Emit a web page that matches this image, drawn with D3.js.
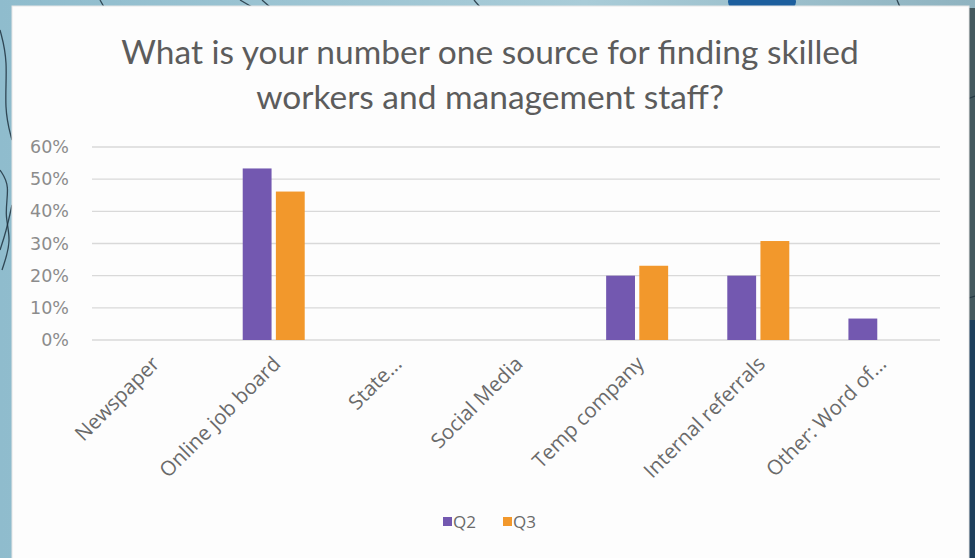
<!DOCTYPE html>
<html>
<head>
<meta charset="utf-8">
<script src="https://cdn.jsdelivr.net/npm/d3@7"></script>
<style>
  html, body { margin: 0; padding: 0; }
  body { width: 975px; height: 558px; overflow: hidden; }
  svg { display: block; }
</style>
</head>
<body>
<svg id="chart" width="975" height="558"></svg>
<script>
// Survey answers: share of respondents naming each source, by quarter
const categories = ["Newspaper", "Online job board", "State...", "Social Media",
                    "Temp company", "Internal referrals", "Other: Word of..."];
const seriesNames = ["Q2", "Q3"];
const q2Values = [0, 0.5333, 0, 0, 0.20, 0.20, 0.0667];
const q3Values = [0, 0.4615, 0, 0, 0.2308, 0.3077, 0];
const yTicks = [0, 0.1, 0.2, 0.3, 0.4, 0.5, 0.6];
const titleLines = ["What is your number one source for finding skilled",
                    "workers and management staff?"];
const colors = ["#7358b0", "#f2982c"];

const svg = d3.select("#chart");
const W = 975, H = 558;

// ---- backdrop behind the chart card ----
const bg = svg.append("g");
const grad = svg.append("defs").append("linearGradient")
  .attr("id", "bgGrad").attr("x1", 0).attr("x2", 1).attr("y1", 0).attr("y2", 0);
grad.append("stop").attr("offset", "0%").attr("stop-color", "#8fbccd");
grad.append("stop").attr("offset", "60%").attr("stop-color", "#a9ccd8");
grad.append("stop").attr("offset", "100%").attr("stop-color", "#8fb3c0");
bg.append("rect").attr("width", W).attr("height", H).attr("fill", "url(#bgGrad)");
bg.append("rect").attr("x", 966).attr("y", 8).attr("width", 9).attr("height", H).attr("fill", "#44595f");
bg.append("rect").attr("x", 966).attr("y", 320).attr("width", 9).attr("height", 238).attr("fill", "#1d3f5c");
bg.append("ellipse").attr("cx", 762).attr("cy", 2).attr("rx", 34).attr("ry", 14).attr("fill", "#1d5f9e");
const sketch = d3.line().curve(d3.curveBasis);
[
  [[0, 30], [8, 60], [4, 110], [12, 140]],
  [[0, 170], [10, 185], [4, 215], [12, 240], [2, 270]],
  [[0, 250], [6, 232], [12, 205]],
  [[100, 0], [104, 7]],
  [[240, 0], [252, 7]],
  [[262, 0], [270, 7]],
  [[474, 0], [480, 7]],
  [[897, 0], [900, 7]],
  [[965, 100], [975, 96]],
  [[962, 300], [975, 296]]
].forEach(pts => {
  bg.append("path").attr("d", sketch(pts)).attr("fill", "none")
    .attr("stroke", "#1f3340").attr("stroke-width", 1.3).attr("opacity", 0.85);
});

// ---- chart card ----
svg.append("rect").attr("x", 12).attr("y", 6).attr("width", 957).attr("height", 560)
  .attr("fill", "#fdfdfd").attr("stroke", "#e6e6e6").attr("stroke-width", 1);

// title
svg.append("g").selectAll("text").data(titleLines).join("text")
  .attr("x", 490).attr("y", (d, i) => 64 + i * 45)
  .attr("text-anchor", "middle")
  .attr("font-family", "Lato, 'Open Sans', sans-serif")
  .attr("font-size", 33.5)
  .attr("fill", "#5c5c5c")
  .text(d => d);

// ---- plot ----
const plot = { left: 92, right: 940, top: 147, bottom: 340 };

const x0 = d3.scaleBand().domain(categories)
  .range([plot.left, plot.right]).paddingInner(0).paddingOuter(0);
const x1 = d3.scaleBand().domain(seriesNames)
  .range([0, 62]).paddingInner(0.13);
const y = d3.scaleLinear().domain([0, 0.6]).range([plot.bottom, plot.top]);

// gridlines
svg.append("g").selectAll("line").data(yTicks).join("line")
  .attr("x1", plot.left).attr("x2", plot.right)
  .attr("y1", d => y(d)).attr("y2", d => y(d))
  .attr("stroke", "#d9d9d9").attr("stroke-width", 1.3);

// y axis labels
const yAxis = d3.axisLeft(y).tickValues(yTicks).tickFormat(d3.format(".0%")).tickSize(0).tickPadding(0);
const yg = svg.append("g").attr("transform", `translate(69,0)`).call(yAxis);
yg.select(".domain").remove();
yg.selectAll("text")
  .attr("font-family", "'DejaVu Sans', sans-serif")
  .attr("font-size", 17.5)
  .attr("fill", "#8c8c8c");

// bars
const rows = categories.map((c, i) => ({ cat: c, vals: [q2Values[i], q3Values[i]] }));
const groups = svg.append("g").selectAll("g").data(rows).join("g")
  .attr("transform", d => `translate(${x0(d.cat) + x0.bandwidth() / 2 - 31},0)`);
groups.selectAll("rect")
  .data(d => d.vals.map((v, k) => ({ key: seriesNames[k], v, k })).filter(e => e.v > 0))
  .join("rect")
  .attr("x", d => x1(d.key))
  .attr("width", x1.bandwidth())
  .attr("y", d => y(d.v))
  .attr("height", d => y(0) - y(d.v))
  .attr("fill", d => colors[d.k]);

// category labels, rotated
const xAxis = d3.axisBottom(x0).tickSize(0).tickPadding(0);
const xg = svg.append("g").attr("transform", `translate(0,${plot.bottom})`).call(xAxis);
xg.select(".domain").remove();
xg.selectAll("text")
  .attr("font-family", "'Open Sans', sans-serif")
  .attr("font-size", 20.5)
  .attr("fill", "#6a6a6a")
  .attr("text-anchor", "end")
  .attr("dy", "0.35em")
  .attr("transform", "translate(3,20) rotate(-45)");

// legend
const legend = svg.append("g").attr("transform", "translate(443,517)");
const li = legend.selectAll("g").data(seriesNames).join("g")
  .attr("transform", (d, i) => `translate(${i * 60},0)`);
li.append("rect").attr("width", 9).attr("height", 9).attr("y", 0)
  .attr("fill", (d, i) => colors[i]);
li.append("text").attr("x", 10).attr("y", 10.5)
  .attr("font-family", "'Open Sans', sans-serif")
  .attr("font-size", 17)
  .attr("fill", "#6a6a6a")
  .text(d => d);
</script>
</body>
</html>
